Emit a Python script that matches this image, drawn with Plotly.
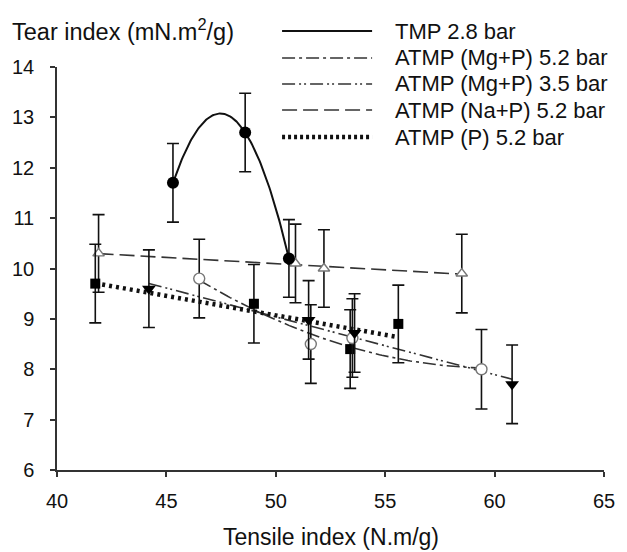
import numpy as np
import plotly.graph_objects as go

# ---------------- data ----------------
series_names = ["TMP 2.8 bar", "ATMP (Mg+P) 5.2 bar", "ATMP (Mg+P) 3.5 bar",
                "ATMP (Na+P) 5.2 bar", "ATMP (P) 5.2 bar"]

tmp_x = [45.3, 48.6, 50.6]
tmp_y = [11.7, 12.7, 10.2]
tmp_err = [0.78, 0.78, 0.77]

mg52_x = [46.5, 51.6, 53.5, 59.4]
mg52_y = [9.8, 8.5, 8.62, 8.0]
mg52_err = [0.78, 0.78, 0.78, 0.79]

mg35_x = [44.2, 51.5, 53.6, 60.8]
mg35_y = [9.6, 8.98, 8.72, 7.7]
mg35_err = [0.77, 0.78, 0.78, 0.78]

na52_x = [41.9, 50.9, 52.2, 58.5]
na52_y = [10.3, 10.1, 10.0, 9.9]
na52_err = [0.77, 0.78, 0.77, 0.78]

p52_x = [41.75, 49.0, 53.4, 55.6]
p52_y = [9.7, 9.3, 8.4, 8.9]
p52_err = [0.78, 0.78, 0.78, 0.77]

x_ticks = [40, 45, 50, 55, 60, 65]
y_ticks = [6, 7, 8, 9, 10, 11, 12, 13, 14]

# ---------------- layout geometry ----------------
W, H = 627, 552
ML, MR, MT, MB = 53, 15, 67, 82
PW, PH = W - ML - MR, H - MT - MB
FONT = "Liberation Sans, Arial, sans-serif"
TXT = "#111111"


def px(xp):
    return (xp - ML) / PW


def py(yp):
    return (H - MB - yp) / PH


def trend(xs, ys, deg, n=120):
    c = np.polyfit(xs, ys, deg)
    xx = np.linspace(min(xs), max(xs), n)
    return xx, np.polyval(c, xx)


fig = go.Figure()

# trend lines (Excel-style: polynomial / linear)
styles = {
    "tmp": dict(color="#111111", width=2),
    "mg52": dict(color="#333333", width=1.6, dash="13px,4px,3px,4px"),
    "mg35": dict(color="#333333", width=1.6, dash="13px,4px,2px,3px,2px,4px"),
    "na52": dict(color="#333333", width=1.6, dash="15px,6px"),
    "p52": dict(color="#111111", width=4.5, dash="3px,4px"),
}

for key, xs, ys, deg in [("tmp", tmp_x, tmp_y, 2), ("mg52", mg52_x, mg52_y, 2),
                         ("mg35", mg35_x, mg35_y, 1), ("na52", na52_x, na52_y, 1),
                         ("p52", p52_x, p52_y, 1)]:
    tx, ty = trend(xs, ys, deg)
    fig.add_trace(go.Scatter(x=tx, y=ty, mode="lines", line=styles[key],
                             showlegend=False, hoverinfo="skip"))


# markers with error bars
def add_pts(xs, ys, err, symbol, size, fill, outline, lw):
    fig.add_trace(go.Scatter(
        x=xs, y=ys, mode="markers",
        marker=dict(symbol=symbol, size=size, color=fill,
                    line=dict(color=outline, width=lw)),
        error_y=dict(type="data", array=err, visible=True, color="#111111",
                     thickness=1.6, width=6),
        showlegend=False))


add_pts(na52_x, na52_y, na52_err, "triangle-up", 10, "white", "#777777", 1.4)
add_pts(p52_x, p52_y, p52_err, "square", 10, "#000000", "#000000", 0)
add_pts(mg52_x, mg52_y, mg52_err, "circle", 11, "white", "#777777", 1.4)
add_pts(mg35_x, mg35_y, mg35_err, "triangle-down", 12, "#000000", "#000000", 0)
add_pts(tmp_x, tmp_y, tmp_err, "circle", 12, "#000000", "#000000", 0)

# ---------------- custom legend ----------------
leg_styles = [styles["tmp"], styles["mg52"], styles["mg35"], styles["na52"],
              dict(color="#111111", width=4.5, dash="3px,3px")]
rows = [31, 58, 84, 110, 137]
shapes = []
annotations = []
for name, st, r in zip(series_names, leg_styles, rows):
    shapes.append(dict(type="line", xref="paper", yref="paper",
                       x0=px(283), x1=px(375), y0=py(r), y1=py(r), line=st))
    annotations.append(dict(text=name, xref="paper", yref="paper",
                            x=px(396), y=py(r), xanchor="left", yanchor="middle",
                            showarrow=False, font=dict(family=FONT, size=22, color=TXT)))

annotations.append(dict(text="Tear index (mN.m<sup>2</sup>/g)", xref="paper", yref="paper",
                        x=px(5), y=py(47), xanchor="left", yanchor="bottom",
                        showarrow=False, font=dict(family=FONT, size=23.5, color=TXT)))
annotations.append(dict(text="Tensile index (N.m/g)", xref="paper", yref="paper",
                        x=0.5, y=py(537), xanchor="center", yanchor="middle",
                        showarrow=False, font=dict(family=FONT, size=23, color=TXT)))

fig.update_layout(
    width=W, height=H,
    margin=dict(l=ML, r=MR, t=MT, b=MB, pad=0),
    paper_bgcolor="white", plot_bgcolor="white",
    showlegend=False,
    shapes=shapes, annotations=annotations,
    font=dict(family=FONT, size=20, color=TXT),
)
fig.update_xaxes(range=[40, 65], tickvals=x_ticks, ticks="outside", ticklen=5,
                 tickwidth=1.5, tickcolor="#333", showline=True, linecolor="#333",
                 linewidth=1.5, showgrid=False, zeroline=False,
                 ticklabelstandoff=7, tickfont=dict(size=20))
fig.update_yaxes(range=[6, 14], tickvals=y_ticks, ticks="outside", ticklen=5,
                 tickwidth=1.5, tickcolor="#333", showline=True, linecolor="#333",
                 linewidth=1.5, showgrid=False, zeroline=False,
                 ticklabelstandoff=12, tickfont=dict(size=20))

fig.write_html("out.html")
